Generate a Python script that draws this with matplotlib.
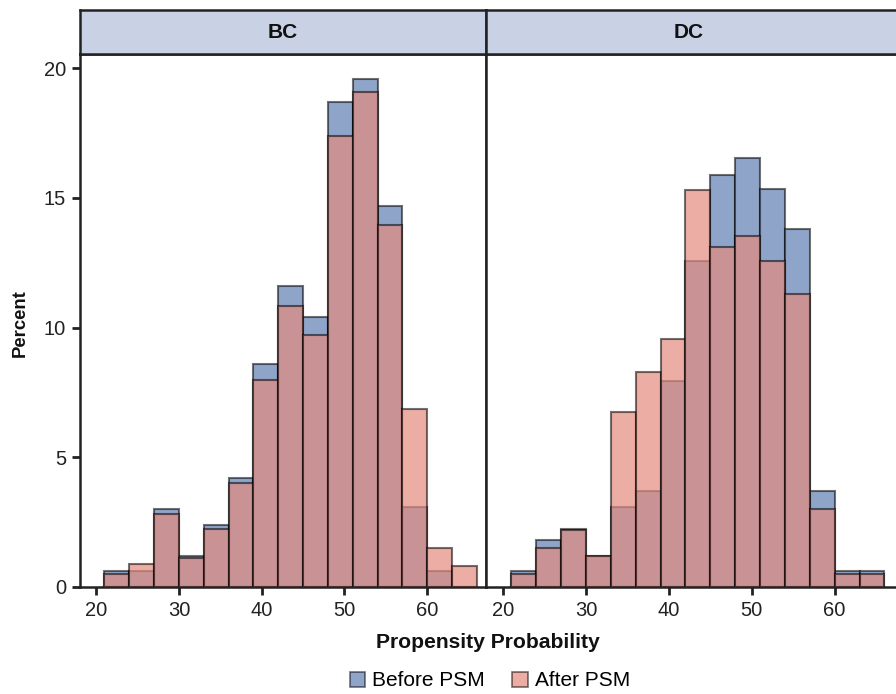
import matplotlib
matplotlib.use("Agg")
import matplotlib.pyplot as plt
from matplotlib.patches import Rectangle
import numpy as np

plt.rcParams['font.family'] = ['Liberation Sans', 'DejaVu Sans']

panels = ["BC", "DC"]
bin_lefts = [21, 24, 27, 30, 33, 36, 39, 42, 45, 48, 51, 54, 57, 60, 63]
bin_width = 3
bc_before = [0.6, 0.6, 3.0, 1.2, 2.4, 4.2, 8.6, 11.6, 10.4, 18.7, 19.6, 14.7, 3.1, 0.6, 0.0]
bc_after = [0.5, 0.9, 2.8, 1.1, 2.25, 4.0, 8.0, 10.85, 9.7, 17.4, 19.1, 13.95, 6.85, 1.5, 0.8]
dc_before = [0.6, 1.8, 2.25, 1.2, 3.1, 3.7, 7.95, 12.55, 15.9, 16.55, 15.35, 13.8, 3.7, 0.6, 0.6]
dc_after = [0.5, 1.5, 2.2, 1.2, 6.75, 8.3, 9.55, 15.3, 13.1, 13.55, 12.55, 11.3, 3.0, 0.5, 0.5]
series_labels = ["Before PSM", "After PSM"]
x_ticks = [20, 30, 40, 50, 60]
y_ticks = [0, 5, 10, 15, 20]

blue = (143/255, 164/255, 201/255, 1.0)
pink = (227/255, 139/255, 126/255, 0.70)
edge = (0, 0, 0, 0.55)
frame = '#222222'

W, H = 896, 694
fig = plt.figure(figsize=(W/100, H/100), dpi=100)

bottom_px, top_px = 587, 54
strip_top = 10
ax_bounds = [(80, 486, (18.05, 67.1)), (486, 896, (17.95, 67.4))]
data = [(bc_before, bc_after), (dc_before, dc_after)]

for i, (name, (l, r, xl), (bef, aft)) in enumerate(zip(panels, ax_bounds, data)):
    ax = fig.add_axes([l/W, 1 - bottom_px/H, (r-l)/W, (bottom_px-top_px)/H])
    ax.bar(bin_lefts, bef, width=bin_width, align='edge', facecolor=blue,
           edgecolor=edge, linewidth=1.5, label=series_labels[0], zorder=2)
    ax.bar(bin_lefts, aft, width=bin_width, align='edge', facecolor=pink,
           edgecolor=edge, linewidth=1.5, label=series_labels[1], zorder=3)
    ax.set_xlim(*xl)
    ax.set_ylim(0, 20.55)
    ax.set_xticks(x_ticks)
    ax.set_yticks(y_ticks)
    ax.tick_params(axis='both', direction='out', length=6, width=2, color=frame,
                   labelsize=14.5, labelcolor='#222222', pad=4)
    for s in ax.spines.values():
        s.set_color(frame)
        s.set_linewidth(1.8)
    if i == 1:
        ax.spines['right'].set_visible(False)
        ax.tick_params(axis='y', left=False, labelleft=False)
    # strip
    sax = fig.add_axes([l/W, 1 - top_px/H, (r-l)/W, (top_px-strip_top)/H])
    sax.set_facecolor('#C9D2E4')
    sax.set_xticks([]); sax.set_yticks([])
    for s in sax.spines.values():
        s.set_color(frame)
        s.set_linewidth(1.8)
    xc = 0.5
    if i == 1:
        sax.spines['right'].set_visible(False)
        xc = 0.5 * (405/410)
    sax.text(xc, 0.5, name, transform=sax.transAxes, ha='center', va='center',
             fontsize=15, fontweight='bold', color='#111111')

fig.text(488/W, 1 - 643/H, "Propensity Probability", ha='center', va='center',
         fontsize=15.2, fontweight='bold', color='#111111')
fig.text(20/W, 1 - 323/H, "Percent", ha='center', va='center', rotation=90,
         fontsize=13.3, fontweight='bold', color='#111111')

handles = [Rectangle((0, 0), 1, 1, facecolor=blue, edgecolor=(0, 0, 0, 0.55), linewidth=1.2),
           Rectangle((0, 0), 1, 1, facecolor=pink, edgecolor=(0, 0, 0, 0.55), linewidth=1.2)]
fig.legend(handles, series_labels, loc='center', bbox_to_anchor=(490/W, 1 - 681/H),
           ncol=2, frameon=False, fontsize=15, handlelength=0.75, handleheight=0.75,
           handletextpad=0.35, columnspacing=1.3, borderaxespad=0)

fig.savefig("out.png", dpi=100)
